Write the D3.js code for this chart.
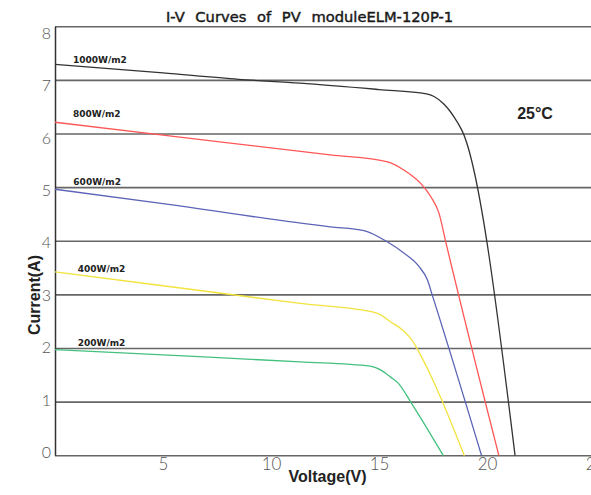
<!DOCTYPE html>
<html><head><meta charset="utf-8">
<script src="https://cdn.jsdelivr.net/npm/d3@7"></script>
<style>body{margin:0;background:#fff;overflow:hidden}</style>
</head><body><svg id="c" width="591" height="495"></svg>
<script>
// ---- data ----
const title = "I-V Curves of PV moduleELM-120P-1";
const xLabel = "Voltage(V)";
const yLabel = "Current(A)";
const tempLabel = "25°C";
const xTicks = [5, 10, 15, 20, 25];
const yTicks = [0, 1, 2, 3, 4, 5, 6, 7, 8];
const seriesNames = ["1000W/m2", "800W/m2", "600W/m2", "400W/m2", "200W/m2"];
const seriesColors = ["#333333", "#ff5656", "#5b64b6", "#f2e33e", "#44c07e"];
const v1000 = [0, 5, 8.5, 11.35, 15, 17.2, 17.55, 18.0, 18.3, 18.5, 18.7, 18.87, 21.3];
const i1000 = [7.30, 7.14, 7.02, 6.95, 6.83, 6.75, 6.70, 6.56, 6.42, 6.30, 6.17, 6.04, 0];
const v800 = [0, 5, 12.74, 15.4, 16.15, 16.6, 16.93, 17.4, 17.78, 18.09, 20.55];
const i800 = [6.22, 5.98, 5.61, 5.48, 5.33, 5.20, 5.08, 4.83, 4.52, 3.99, 0];
const v600 = [0, 5, 12.74, 14.3, 15.38, 16.15, 16.85, 17.24, 17.47, 19.75];
const i600 = [4.97, 4.70, 4.27, 4.20, 3.99, 3.78, 3.53, 3.28, 2.99, 0];
const v400 = [0, 5, 11.35, 14.9, 15.53, 16.1, 16.57, 16.8, 18.95];
const i400 = [3.43, 3.17, 2.84, 2.66, 2.50, 2.34, 2.13, 1.97, 0];
const v200 = [0, 5, 11.35, 14.6, 15.07, 15.53, 15.9, 16.47, 17.98];
const i200 = [1.98, 1.88, 1.75, 1.67, 1.60, 1.47, 1.35, 1.00, 0];
const labelV = [0.83, 0.83, 0.85, 1.05, 1.05];
const labelI = [7.33, 6.32, 5.04, 3.42, 2.05];

const volts = [v1000, v800, v600, v400, v200];
const amps = [i1000, i800, i600, i400, i200];

// ---- chart ----
const svg = d3.select("#c");
const x = d3.scaleLinear().domain([0, 25]).range([55, 595]);
const y = d3.scaleLinear().domain([0, 8]).range([455.7, 26.8]);
const yLab = d3.scaleLinear().domain([0, 8]).range([452.5, 33]);

// grid lines
svg.append("g").selectAll("line").data(yTicks).join("line")
  .attr("x1", x(0)).attr("x2", 591)
  .attr("y1", d => y(d)).attr("y2", d => y(d))
  .attr("stroke", "#666").attr("stroke-width", 1.6);

// left axis line
svg.append("line").attr("x1", x(0) + 0.5).attr("x2", x(0) + 0.5)
  .attr("y1", y(8)).attr("y2", y(0))
  .attr("stroke", "#333").attr("stroke-width", 1.5);

// x tick labels
const xAxis = svg.append("g").attr("transform", `translate(0,${y(0)})`)
  .call(d3.axisBottom(x).tickValues(xTicks).tickSize(0).tickPadding(2).tickFormat(d3.format("d")));
xAxis.select(".domain").remove();
xAxis.selectAll("text").attr("font-family", "Lato, 'DejaVu Sans', sans-serif")
  .attr("font-weight", 300).attr("font-size", 17).attr("fill", "#555");

// y tick labels
const yAxis = svg.append("g").attr("transform", `translate(${x(0)},0)`)
  .call(d3.axisLeft(yLab).tickValues(yTicks).tickSize(0).tickPadding(4).tickFormat(d3.format("d")));
yAxis.select(".domain").remove();
yAxis.selectAll("text").attr("font-family", "Lato, 'DejaVu Sans', sans-serif")
  .attr("font-weight", 300).attr("font-size", 16).attr("fill", "#555");

// curves
const line = d3.line().x(d => x(d[0])).y(d => y(d[1])).curve(d3.curveMonotoneX);
volts.forEach((vs, k) => {
  const pts = vs.map((v, j) => [v, amps[k][j]]);
  svg.append("path").datum(pts).attr("d", line)
    .attr("fill", "none").attr("stroke", seriesColors[k]).attr("stroke-width", 1.3);
});

// curve labels
svg.append("g").selectAll("text").data(seriesNames).join("text")
  .attr("x", (d, k) => x(labelV[k])).attr("y", (d, k) => y(labelI[k]))
  .attr("font-family", "'DejaVu Sans', sans-serif").attr("font-weight", "bold")
  .attr("font-size", 9).attr("fill", "#222").text(d => d);

// title
svg.append("text").attr("x", 309.5).attr("y", 22).attr("text-anchor", "middle")
  .attr("font-family", "'DejaVu Sans', sans-serif").attr("font-size", 14.7)
  .attr("word-spacing", "6px").attr("fill", "#1a1a1a")
  .attr("stroke", "#1a1a1a").attr("stroke-width", 0.45).text(title);

// temperature
svg.append("text").attr("x", 535).attr("y", 119).attr("text-anchor", "middle")
  .attr("font-family", "'Liberation Sans', Arial, sans-serif").attr("font-weight", "bold")
  .attr("font-size", 16).attr("fill", "#222").text(tempLabel);

// axis titles
svg.append("text").attr("x", 327.5).attr("y", 482).attr("text-anchor", "middle")
  .attr("font-family", "'Liberation Sans', Arial, sans-serif").attr("font-weight", "bold")
  .attr("font-size", 16).attr("fill", "#222").text(xLabel);
svg.append("text").attr("transform", "translate(40,295) rotate(-90)").attr("text-anchor", "middle")
  .attr("font-family", "'Liberation Sans', Arial, sans-serif").attr("font-weight", "bold")
  .attr("font-size", 16).attr("fill", "#222").text(yLabel);
</script></body></html>
